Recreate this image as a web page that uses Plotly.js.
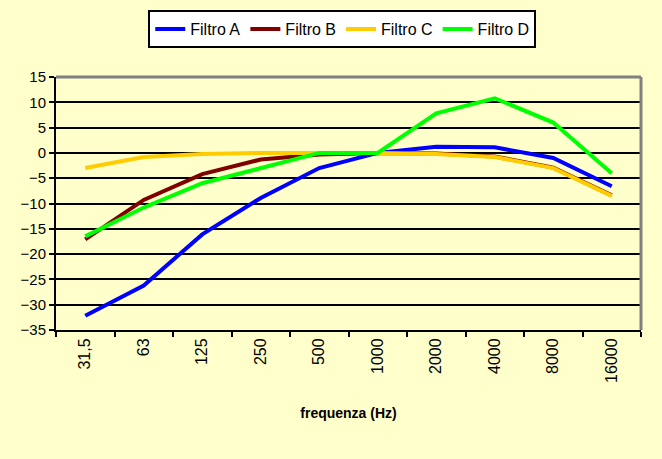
<!DOCTYPE html>
<html>
<head>
<meta charset="utf-8">
<script src="https://cdn.plot.ly/plotly-3.0.1.min.js"></script>
<style>
  html, body { margin: 0; padding: 0; background: #FFFFCC; }
  #chart { width: 662px; height: 459px; }
</style>
</head>
<body>
<div id="chart"></div>
<script>
const frequenze = ["31,5", "63", "125", "250", "500", "1000", "2000", "4000", "8000", "16000"];
const filtroA = [-32.2, -26.2, -16.1, -8.9, -3.0, 0, 1.2, 1.1, -1.0, -6.6];
const filtroB = [-17.1, -9.3, -4.2, -1.3, -0.3, 0, -0.1, -0.7, -2.9, -8.4];
const filtroC = [-3.0, -0.8, -0.2, 0, 0, 0, -0.2, -0.8, -3.0, -8.5];
const filtroD = [-16.5, -10.8, -6.0, -3.0, 0, 0, 7.8, 10.8, 6.0, -4.0];

const series = [
  { name: "Filtro A", y: filtroA, color: "#0000FF" },
  { name: "Filtro B", y: filtroB, color: "#800000" },
  { name: "Filtro C", y: filtroC, color: "#FFCC00" },
  { name: "Filtro D", y: filtroD, color: "#00FF00" },
];

const traces = series.map((s) => ({
  x: frequenze,
  y: s.y,
  name: s.name,
  type: "scatter",
  mode: "lines",
  line: { color: s.color, width: 4 },
}));

const layout = {
  width: 662,
  height: 459,
  paper_bgcolor: "#FFFFCC",
  plot_bgcolor: "#FFFFCC",
  font: { family: "Arial, Liberation Sans, sans-serif", size: 15, color: "#000" },
  margin: { l: 56, r: 21, t: 77, b: 129 },
  showlegend: true,
  legend: {
    orientation: "h",
    xref: "container",
    yref: "container",
    x: 0.517,
    xanchor: "center",
    y: 0.978,
    yanchor: "top",
    bgcolor: "#FFFFFF",
    bordercolor: "#000000",
    borderwidth: 2,
    font: { size: 16 },
    itemwidth: 30,
    tracegroupgap: 0,
  },
  xaxis: {
    type: "category",
    range: [-0.5, 9.5],
    tickangle: -90,
    tickson: "boundaries",
    ticks: "outside",
    ticklen: 5,
    tickwidth: 2,
    tickcolor: "#000",
    tickfont: { size: 16 },
    showline: true,
    linecolor: "#000",
    linewidth: 2,
    showgrid: false,
    title: { text: "frequenza (Hz)", font: { size: 14, weight: "bold" }, standoff: 26 },
  },
  yaxis: {
    range: [-35, 15],
    dtick: 5,
    tick0: 0,
    ticks: "outside",
    ticklen: 5,
    tickwidth: 2,
    tickcolor: "#000",
    tickfont: { size: 15 },
    showline: true,
    linecolor: "#000",
    linewidth: 2,
    showgrid: true,
    gridcolor: "#000",
    gridwidth: 2,
    zeroline: false,
  },
  shapes: [
    { type: "line", xref: "paper", yref: "paper", x0: 0, x1: 1, y0: 1, y1: 1, line: { color: "#808080", width: 3 } },
    { type: "line", xref: "paper", yref: "paper", x0: 1, x1: 1, y0: 0, y1: 1, line: { color: "#808080", width: 3 } },
  ],
};

Plotly.newPlot("chart", traces, layout, { displayModeBar: false, responsive: false });
</script>
</body>
</html>
